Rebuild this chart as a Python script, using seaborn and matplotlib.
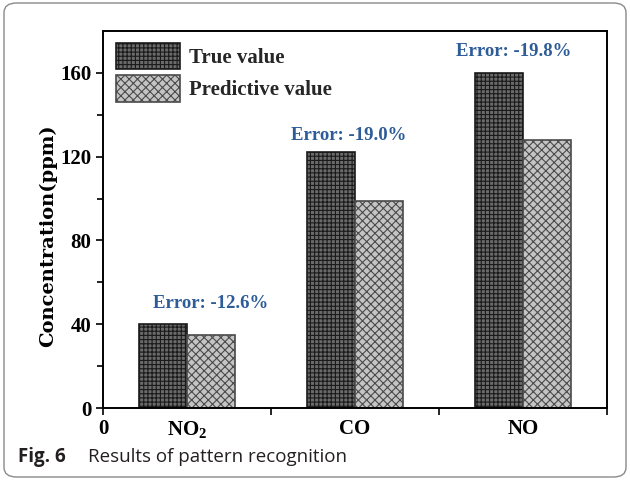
import matplotlib
matplotlib.use("Agg")
import matplotlib.pyplot as plt
from matplotlib.patches import FancyBboxPatch
import seaborn as sns
import pandas as pd

gases = ["NO$_{\\mathbf{2}}$", "CO", "NO"]
true_values = [40, 122, 160]
pred_values = [35, 99, 128]
error_labels = ["Error: -12.6%", "Error: -19.0%", "Error: -19.8%"]
series_names = ["True value", "Predictive value"]
y_ticks = [0, 40, 80, 120, 160]

sns.set_theme(style="white")
plt.rcParams["font.family"] = ["Liberation Serif", "DejaVu Serif"]
plt.rcParams["mathtext.fontset"] = "custom"
plt.rcParams["mathtext.rm"] = "Liberation Serif:bold"
plt.rcParams["mathtext.bf"] = "Liberation Serif:bold"
plt.rcParams["hatch.linewidth"] = 0.8

df = pd.DataFrame({
    "gas": gases * 2,
    "value": true_values + pred_values,
    "series": [series_names[0]] * 3 + [series_names[1]] * 3,
})

fig = plt.figure(figsize=(6.3, 4.8), dpi=100)
ax = fig.add_axes([103 / 630, 1 - 408 / 480, 504 / 630, 377 / 480])

sns.barplot(data=df, x="gas", y="value", hue="series",
            palette=["#6a6a6a", "#c4c4c4"], edgecolor="black",
            linewidth=1.2, width=0.575, saturation=1, legend=False, ax=ax)

hatches = ["++++", "xxxx"]
hatch_edges = ["#1a1a1a", "#4a4a4a"]
for cont, h, hc in zip(ax.containers, hatches, hatch_edges):
    for bar in cont:
        bar.set_hatch(h)
        bar.set_edgecolor(hc)

ax.set_xlim(-0.5, 2.5)
ax.set_ylim(0, 180)
ax.set_yticks(y_ticks)
ax.set_yticks([20, 60, 100, 140], minor=True)
ax.set_xticks([-0.5, 0.5, 1.5, 2.5], minor=True)
ax.tick_params(axis="x", which="major", length=0, pad=8)
ax.tick_params(axis="x", which="minor", length=5, width=1.2, direction="out",
               bottom=True, color="black")
ax.tick_params(axis="y", which="major", length=5, width=1.2, direction="out",
               left=True, color="black")
ax.tick_params(axis="y", which="minor", length=4, width=1.2, direction="out",
               left=True, color="black")
for lab in ax.get_xticklabels() + ax.get_yticklabels():
    lab.set_fontweight("bold")
    lab.set_fontsize(15)
    lab.set_color("black")

ax.set_xlabel("")
ax.set_ylabel("Concentration(ppm)", fontsize=14, fontweight="bold",
              color="black", family=["DejaVu Serif"])
ax.yaxis.set_label_coords(-0.092, 0.4576)
for sp in ax.spines.values():
    sp.set_visible(True)
    sp.set_color("black")
    sp.set_linewidth(1.4)

# x-axis origin label
ax.annotate("0", xy=(-0.5, 0), xycoords=("data", "axes fraction"),
            xytext=(0, -8), textcoords="offset points", ha="center",
            va="top", fontsize=15, fontweight="bold", color="black")

# error annotations
offsets = [(-0.2, 10), (-0.38, 8), (-0.4, 10)]
for i, (lab, (dx, dy)) in enumerate(zip(error_labels, offsets)):
    top = max(true_values[i], pred_values[i])
    ax.text(i + dx, top + dy, lab, ha="left", va="center", fontsize=13.5,
            fontweight="bold", color="#2e5c98")

# legend
handles = [ax.containers[0][0], ax.containers[1][0]]
leg = ax.legend(handles, series_names, loc="upper left", frameon=False,
                prop={"family": "Liberation Serif", "weight": "bold", "size": 15},
                handlelength=3.1, handleheight=1.57, handletextpad=0.4,
                labelspacing=0.3, borderaxespad=0.4, bbox_to_anchor=(-0.008, 1.013))

# caption
fig.text(18 / 630, 1 - 457 / 480, "Fig. 6", fontsize=13.5, fontweight="bold",
         family=["Open Sans", "DejaVu Sans"], color="#231f20", va="center")
fig.text(88 / 630, 1 - 457 / 480, "Results of pattern recognition", fontsize=13.5,
         family=["Open Sans", "DejaVu Sans"], color="#231f20", va="center")

# rounded frame around the figure
frame = FancyBboxPatch((4 / 630, 3 / 480), 622 / 630, 474 / 480,
                       boxstyle="round,pad=0,rounding_size=0.02",
                       transform=fig.transFigure, fill=False,
                       edgecolor="#8a8a8a", linewidth=1.0)
fig.patches.append(frame)

fig.savefig("out.png", dpi=100)
